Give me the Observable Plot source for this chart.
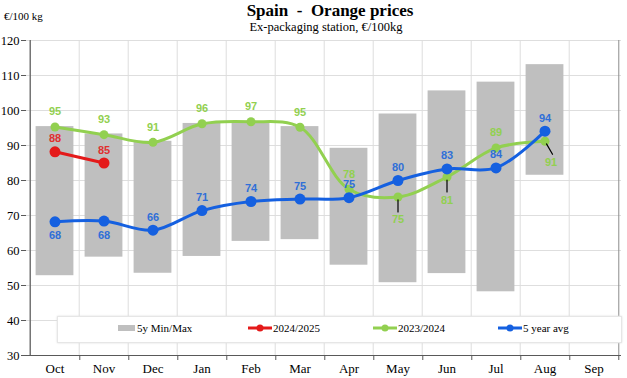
<!DOCTYPE html>
<html><head><meta charset="utf-8">
<script src="https://cdn.jsdelivr.net/npm/d3@7"></script>
<script src="https://cdn.jsdelivr.net/npm/@observablehq/plot@0.6"></script>
<style>
body{margin:0;background:#fff;}
#wrap{position:relative;width:627px;height:378px;font-family:"Liberation Serif","Times New Roman",serif;overflow:hidden;}
#title{position:absolute;left:0;width:660px;top:1px;text-align:center;font-weight:bold;font-size:17px;color:#000;}
#subtitle{position:absolute;left:0;width:652px;top:20px;text-align:center;font-size:12.5px;color:#000;}
#unit{position:absolute;left:4px;top:10px;font-size:11px;color:#000;}
#legend{position:absolute;left:57px;top:316px;width:563px;height:25px;background:#fff;border:1px solid #e6e6e6;box-shadow:0 0 2px #ddd;font-size:11px;}
.li{position:absolute;top:5px;display:flex;align-items:center;gap:1px;}
#chart{position:absolute;left:0;top:0;}
</style></head><body>
<div id="wrap">
  <div id="chart"></div>
  <div id="title">Spain&nbsp; - &nbsp;Orange prices</div>
  <div id="subtitle">Ex-packaging station, €/100kg</div>
  <div id="unit">€/100 kg</div>
  <div id="legend"></div>
</div>
<script>
const months = ["Oct","Nov","Dec","Jan","Feb","Mar","Apr","May","Jun","Jul","Aug","Sep"];
const min5y = [52.8, 58.1, 53.5, 58.3, 62.6, 63.1, 55.8, 50.8, 53.4, 48.2, 81.5];
const max5y = [95.4, 93.3, 91.2, 96.3, 96.8, 95.4, 89.2, 99.0, 105.6, 108.1, 113.1];
const avg5y = [68.2, 68.4, 65.8, 71.4, 74.0, 74.7, 75.1, 80.0, 83.3, 83.6, 94.1];
const season2324 = [95.3, 93.1, 90.9, 96.2, 96.8, 95.2, 77.5, 75.3, 81.0, 89.3, 91.2];
const season2425 = [88.2, 85.0];
const yTicks = [30, 40, 50, 60, 70, 80, 90, 100, 110, 120];
const seriesNames = ["5y Min/Max", "2024/2025", "2023/2024", "5 year avg"];

const W = 627, H = 378, mL = 26, mR = 6, mT = 40, mB = 23;
const bw = (W - mL - mR) / months.length;
const C = {bar: "#bfbfbf", red: "#e41a1a", green: "#92d050", blue: "#1560e0", blueText: "#2f6fd8", redText: "#e03030", greenText: "#92d050"};

const rows = avg5y.map((v, i) => ({month: months[i], i, lo: min5y[i], hi: max5y[i], avg: v, g: season2324[i]}));
const reds = season2425.map((v, i) => ({month: months[i], i, r: v}));

// label placement rules
const greenBelow = rows.filter(d => d.g < d.avg);
const greenAbove = rows.filter(d => d.g >= d.avg);
const blueBelow = rows.filter(d => d.i < season2425.length);
const blueAbove = rows.filter(d => d.i >= season2425.length);
const lastI = rows.length - 1;
const stick = {draw(ctx, l) { ctx.moveTo(0, -3); ctx.lineTo(0, -l); }};
const lbl = {fontFamily: "Liberation Sans, Arial, sans-serif", fontWeight: "bold", fontSize: 11};

const chart = Plot.plot({
  width: W, height: H,
  marginLeft: mL, marginRight: mR, marginTop: mT, marginBottom: mB,
  style: {background: "transparent", overflow: "visible"},
  x: {type: "band", domain: months, padding: 0, label: null},
  y: {domain: [30, 120], label: null},
  marks: [
    Plot.gridY(yTicks, {stroke: "#dedede", strokeOpacity: 1}),
    Plot.ruleX(months, {x: d => d, dx: -bw / 2, y1: 30, y2: 120, stroke: "#dedede"}),
    Plot.barY(rows, {x: "month", y1: "lo", y2: "hi", fill: C.bar, insetLeft: 5.6, insetRight: 5.6}),
    // axes lines
    Plot.ruleX([months[0]], {x: d => d, dx: -bw / 2, y1: 30, y2: 120, stroke: "#595959", strokeWidth: 1.2}),
    Plot.ruleX([months[months.length - 1]], {x: d => d, dx: bw / 2, y1: 30, y2: 120, stroke: "#8c8c8c"}),
    Plot.ruleY([30], {stroke: "#595959", strokeWidth: 1.2}),
    Plot.ruleX(months, {x: d => d, dx: bw / 2, y1: 30, y2: 30 - 5 / 3.5, stroke: "#595959", clip: false}),
    Plot.axisY(yTicks, {tickSize: 5, tickPadding: 2, fontSize: 12.5, fontFamily: "Liberation Serif, serif", fill: "#000", stroke: "#595959"}),
    Plot.axisX({tickSize: 0, tickPadding: 8, fontSize: 13, fontFamily: "Liberation Serif, serif", fill: "#000"}),
    // 2023/2024
    Plot.line(rows, {x: "month", y: "g", stroke: C.green, strokeWidth: 3, curve: "catmull-rom"}),
    Plot.dot(rows, {x: "month", y: "g", r: 4.5, fill: C.green}),
    // 5 year avg
    Plot.line(rows, {x: "month", y: "avg", stroke: C.blue, strokeWidth: 3, curve: "catmull-rom"}),
    Plot.dot(rows, {x: "month", y: "avg", r: 5.5, fill: C.blue}),
    // 2024/2025
    Plot.line(reds, {x: "month", y: "r", stroke: C.red, strokeWidth: 3, curve: "catmull-rom"}),
    Plot.dot(reds, {x: "month", y: "r", r: 5.5, fill: C.red}),
    // leaders
    Plot.vector(greenBelow.filter(d => d.i !== lastI), {x: "month", y: "g", anchor: "start", length: 15, rotate: 180, shape: stick, stroke: "#000", strokeWidth: 1.2}),
    Plot.vector(greenBelow.filter(d => d.i === lastI), {x: "month", y: "g", anchor: "start", length: 15, rotate: 150, shape: stick, stroke: "#000", strokeWidth: 1.2}),
    // labels
    Plot.text(greenAbove, {x: "month", y: "g", text: d => Math.round(d.g), dy: -15, fill: C.greenText, ...lbl}),
    Plot.text(greenBelow.filter(d => d.i !== lastI), {x: "month", y: "g", text: d => Math.round(d.g), dy: 23, fill: C.greenText, ...lbl}),
    Plot.text(greenBelow.filter(d => d.i === lastI), {x: "month", y: "g", text: d => Math.round(d.g), dy: 21, dx: 6, fill: C.greenText, ...lbl}),
    Plot.text(blueAbove, {x: "month", y: "avg", text: d => Math.round(d.avg), dy: -13, fill: C.blueText, ...lbl}),
    Plot.text(blueBelow, {x: "month", y: "avg", text: d => Math.round(d.avg), dy: 14, fill: C.blueText, ...lbl}),
    Plot.text(reds, {x: "month", y: "r", text: d => Math.round(d.r), dy: -13, fill: C.redText, ...lbl})
  ]
});
document.getElementById("chart").appendChild(chart);

// legend
const legendItems = [
  {name: seriesNames[0], kind: "bar", color: C.bar, left: 60},
  {name: seriesNames[1], kind: "line", color: C.red, left: 190},
  {name: seriesNames[2], kind: "line", color: C.green, left: 315},
  {name: seriesNames[3], kind: "line", color: C.blue, left: 440}
];
const leg = document.getElementById("legend");
for (const it of legendItems) {
  const div = document.createElement("div");
  div.className = "li";
  div.style.left = it.left + "px";
  const sw = it.kind === "bar"
    ? `<svg width="18" height="12"><rect x="0" y="3" width="17" height="6" fill="${it.color}"/></svg>`
    : `<svg width="24" height="12"><line x1="0" y1="6" x2="24" y2="6" stroke="${it.color}" stroke-width="3"/><circle cx="12" cy="6" r="3.5" fill="${it.color}"/></svg>`;
  div.innerHTML = sw + `<span>${it.name}</span>`;
  leg.appendChild(div);
}
</script>
</body></html>
